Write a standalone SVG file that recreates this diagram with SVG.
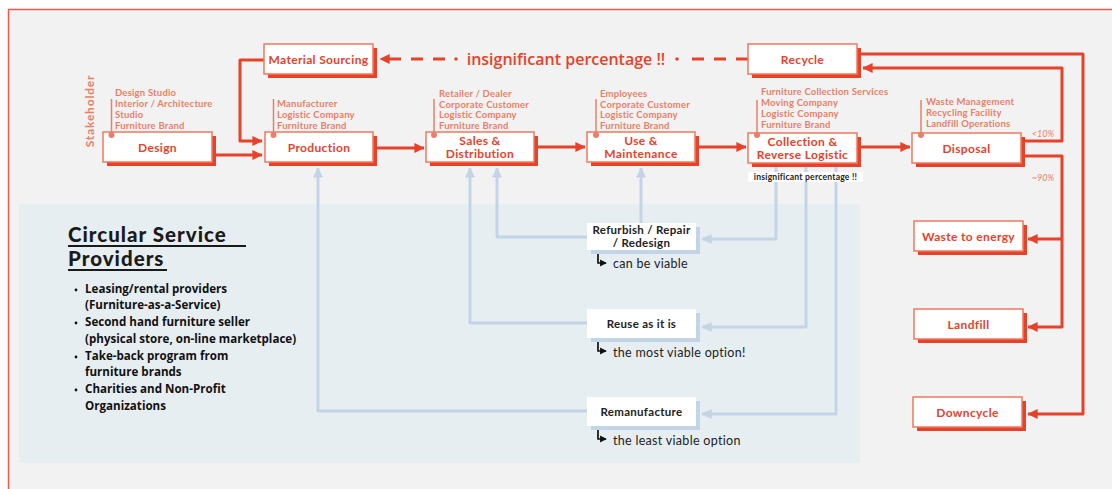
<svg xmlns="http://www.w3.org/2000/svg" width="1112" height="489" viewBox="0 0 1112 489">
<defs>
<marker id="ar" markerWidth="4" markerHeight="4" refX="3.2" refY="2" orient="auto" markerUnits="strokeWidth"><path d="M0,0.3 L3.4,2 L0,3.7 Z" fill="#e8412a"/></marker>
<marker id="ab" markerWidth="4" markerHeight="4" refX="3.2" refY="2" orient="auto" markerUnits="strokeWidth"><path d="M0,0.3 L3.4,2 L0,3.7 Z" fill="#c3d4e6"/></marker>
<marker id="ak" markerWidth="5" markerHeight="5" refX="3.5" refY="2.5" orient="auto" markerUnits="strokeWidth"><path d="M0,0.5 L4,2.5 L0,4.5 Z" fill="#111"/></marker>
<style>
.sh{fill:#e8412a}
.bx{fill:#fff;stroke:#f07a5f;stroke-width:1.5}
.bsh{fill:#c3d4e6}
.sbx{fill:#fff}
.bt{font-family:Lato,"Liberation Sans",sans-serif;font-weight:700;font-size:12px;letter-spacing:0.35px;fill:#e8412a;text-anchor:middle}
.st{font-family:Lato,"Liberation Sans",sans-serif;font-weight:700;font-size:9.5px;letter-spacing:0.2px;fill:#ea7f67}
.sbar{stroke:#ea7f67;stroke-width:1.5}
.dot{fill:#ea7f67}
.rl{fill:none;stroke:#e8412a;stroke-width:3;stroke-linejoin:round}
.bl{fill:none;stroke:#c3d4e6;stroke-width:3;stroke-linejoin:round}
.sv{font-family:Lato,"Liberation Sans",sans-serif;font-weight:700;font-size:11.5px;letter-spacing:0.3px;fill:#222;text-anchor:middle}
.nt{font-family:Lato,"Liberation Sans",sans-serif;font-size:12.5px;letter-spacing:0.3px;fill:#222}
.li{font-family:"Open Sans","Noto Sans",sans-serif;font-weight:700;font-size:11.6px;fill:#111}
.pc{font-family:Lato,"Liberation Sans",sans-serif;font-style:italic;font-size:9px;fill:#ea7f67}
</style>
</defs>
<rect x="0" y="0" width="1112" height="489" fill="#fff"/>
<rect x="8.5" y="9.5" width="1120" height="500" fill="#f2f2f2" stroke="#ef5a4a" stroke-width="1.5"/>
<rect x="19" y="204" width="841" height="259" fill="#e7eef2"/>

<g id="connectors">
<path class="rl" d="M216,155 H262" marker-end="url(#ar)"/>
<path class="rl" d="M264,60 H240 V141 H262" marker-end="url(#ar)"/>
<path class="rl" d="M377,148 H424" marker-end="url(#ar)"/>
<path class="rl" d="M538,147 H585" marker-end="url(#ar)"/>
<path class="rl" d="M699,147 H746" marker-end="url(#ar)"/>
<path class="rl" d="M861,147 H910" marker-end="url(#ar)"/>
<path class="rl" d="M748,59 H684" stroke-dasharray="12 10"/>
<path class="rl" d="M445,59 H380" stroke-dasharray="12 10" marker-end="url(#ar)"/>
<circle cx="456" cy="59" r="1.8" fill="#e8412a"/>
<circle cx="677" cy="59" r="1.8" fill="#e8412a"/>
<path class="rl" d="M861,54 H1083 V414 H1028" marker-end="url(#ar)"/>
<path class="rl" d="M1025,141 H1062 V68 H863" marker-end="url(#ar)"/>
<path class="rl" d="M1025,156 H1062 V327 H1028" marker-end="url(#ar)"/>
<path class="rl" d="M1062,239 H1028" marker-end="url(#ar)"/>
<path class="bl" d="M776,167 V239 H702" marker-end="url(#ab)"/>
<path class="bl" d="M806,167 V327 H702" marker-end="url(#ab)"/>
<path class="bl" d="M836,167 V414 H702" marker-end="url(#ab)"/>
<path class="bl" d="M587,237 H497 V168" marker-end="url(#ab)"/>
<path class="bl" d="M587,323 H470 V168" marker-end="url(#ab)"/>
<path class="bl" d="M587,411 H318 V168" marker-end="url(#ab)"/>
<path class="bl" d="M641,223 V168" marker-end="url(#ab)"/>
<path d="M598,253 V263 H606" fill="none" stroke="#111" stroke-width="1.7" marker-end="url(#ak)"/>
<path d="M598,341 V351 H606" fill="none" stroke="#111" stroke-width="1.7" marker-end="url(#ak)"/>
<path d="M598,429 V439 H606" fill="none" stroke="#111" stroke-width="1.7" marker-end="url(#ak)"/>
</g>

<text x="566" y="64.5" font-family="'Open Sans','Noto Sans',sans-serif" font-weight="600" font-size="16" fill="#e8412a" text-anchor="middle">insignificant percentage !!</text>
<text x="1043" y="137" class="pc" text-anchor="middle">&lt;10%</text>
<text x="1043" y="181" class="pc" text-anchor="middle">~90%</text>
<text transform="translate(94,111) rotate(-90)" font-family="Lato,'Liberation Sans',sans-serif" font-weight="700" font-size="12" fill="#ea7f67" text-anchor="middle" letter-spacing="0.8">Stakeholder</text>

<g id="design">
<rect class="sh" x="107" y="136" width="109" height="30"/><rect class="bx" x="103" y="132" width="109" height="30"/>
<text class="bt" x="157.5" y="152">Design</text>
<line class="sbar" x1="111.5" y1="99" x2="111.5" y2="135"/><circle class="dot" cx="111.5" cy="135" r="3"/>
<text class="st" x="115" y="96">Design Studio</text><text class="st" x="115" y="107">Interior / Architecture</text><text class="st" x="115" y="118">Studio</text><text class="st" x="115" y="129">Furniture Brand</text>
</g>
<g id="material-sourcing">
<rect class="sh" x="268" y="48" width="109" height="30"/><rect class="bx" x="264" y="44" width="109" height="30"/>
<text class="bt" x="318.5" y="64" font-size="11.5">Material Sourcing</text>
</g>
<g id="production">
<rect class="sh" x="269" y="136" width="108" height="30"/><rect class="bx" x="265" y="132" width="108" height="30"/>
<text class="bt" x="319" y="152">Production</text>
<line class="sbar" x1="273.5" y1="99" x2="273.5" y2="135"/><circle class="dot" cx="273.5" cy="135" r="3"/>
<text class="st" x="277" y="107">Manufacturer</text><text class="st" x="277" y="118">Logistic Company</text><text class="st" x="277" y="129">Furniture Brand</text>
</g>
<g id="sales">
<rect class="sh" x="430" y="136" width="108" height="30"/><rect class="bx" x="426" y="132" width="108" height="30"/>
<text class="bt" x="480" y="145">Sales &amp;</text><text class="bt" x="480" y="158">Distribution</text>
<line class="sbar" x1="434" y1="99" x2="434" y2="135"/><circle class="dot" cx="434" cy="135" r="3"/>
<text class="st" x="439" y="97">Retailer / Dealer</text><text class="st" x="439" y="107.5">Corporate Customer</text><text class="st" x="439" y="118">Logistic Company</text><text class="st" x="439" y="128.5">Furniture Brand</text>
</g>
<g id="use">
<rect class="sh" x="591" y="136" width="108" height="30"/><rect class="bx" x="587" y="132" width="108" height="30"/>
<text class="bt" x="641" y="145">Use &amp;</text><text class="bt" x="641" y="158">Maintenance</text>
<line class="sbar" x1="596" y1="99" x2="596" y2="135"/><circle class="dot" cx="596" cy="135" r="3"/>
<text class="st" x="600" y="97">Employees</text><text class="st" x="600" y="107.5">Corporate Customer</text><text class="st" x="600" y="118">Logistic Company</text><text class="st" x="600" y="128.5">Furniture Brand</text>
</g>
<g id="collection">
<rect class="sh" x="752" y="137" width="109" height="30"/><rect class="bx" x="748" y="133" width="109" height="30"/>
<text class="bt" x="802.5" y="146">Collection &amp;</text><text class="bt" x="802.5" y="159">Reverse Logistic</text>
<line class="sbar" x1="757" y1="100" x2="757" y2="135"/><circle class="dot" cx="757" cy="135" r="3"/>
<text class="st" x="761" y="95">Furniture Collection Services</text><text class="st" x="761" y="106">Moving Company</text><text class="st" x="761" y="117">Logistic Company</text><text class="st" x="761" y="128">Furniture Brand</text>
<rect x="748" y="172" width="115" height="10" fill="#fff"/>
<text x="805.5" y="180" font-family="Lato,'Liberation Sans',sans-serif" font-weight="700" font-size="8.6" fill="#222" text-anchor="middle" letter-spacing="0.2">insignificant percentage !!</text>
</g>
<g id="recycle">
<rect class="sh" x="752" y="48" width="109" height="30"/><rect class="bx" x="748" y="44" width="109" height="30"/>
<text class="bt" x="802.5" y="64">Recycle</text>
</g>
<g id="disposal">
<rect class="sh" x="916" y="137" width="109" height="30"/><rect class="bx" x="912" y="133" width="109" height="30"/>
<text class="bt" x="966.5" y="153">Disposal</text>
<line class="sbar" x1="921" y1="100" x2="921" y2="135"/><circle class="dot" cx="921" cy="135" r="3"/>
<text class="st" x="926" y="105">Waste Management</text><text class="st" x="926" y="116">Recycling Facility</text><text class="st" x="926" y="127">Landfill Operations</text>
</g>
<g id="waste-to-energy">
<rect class="sh" x="918" y="225" width="109" height="30"/><rect class="bx" x="914" y="221" width="109" height="30"/>
<text class="bt" x="968.5" y="241">Waste to energy</text>
</g>
<g id="landfill">
<rect class="sh" x="918" y="313" width="109" height="30"/><rect class="bx" x="914" y="309" width="109" height="30"/>
<text class="bt" x="968.5" y="329">Landfill</text>
</g>
<g id="downcycle">
<rect class="sh" x="917" y="401" width="109" height="30"/><rect class="bx" x="913" y="397" width="109" height="30"/>
<text class="bt" x="967.5" y="417">Downcycle</text>
</g>

<g id="refurbish">
<rect class="bsh" x="591" y="227" width="109" height="27"/><rect class="sbx" x="587" y="223" width="109" height="27"/>
<text class="sv" x="641.5" y="234">Refurbish / Repair</text><text class="sv" x="641.5" y="246.5">/ Redesign</text>
<text class="nt" x="613" y="268">can be viable</text>
</g>
<g id="reuse">
<rect class="bsh" x="591" y="313" width="109" height="29"/><rect class="sbx" x="587" y="309" width="109" height="29"/>
<text class="sv" x="641.5" y="328">Reuse as it is</text>
<text class="nt" x="613" y="357">the most viable option!</text>
</g>
<g id="remanufacture">
<rect class="bsh" x="591" y="401" width="109" height="29"/><rect class="sbx" x="587" y="397" width="109" height="29"/>
<text class="sv" x="641.5" y="416">Remanufacture</text>
<text class="nt" x="613" y="445">the least viable option</text>
</g>

<g id="circular-service-providers">
<text x="68" y="242" font-family="Lato,'Liberation Sans',sans-serif" font-weight="900" font-size="20.5" letter-spacing="1" fill="#1a1a1a">Circular Service </text>
<line x1="68" y1="246" x2="246" y2="246" stroke="#1a1a1a" stroke-width="1.8"/>
<text x="68" y="266" font-family="Lato,'Liberation Sans',sans-serif" font-weight="900" font-size="20.5" letter-spacing="1" fill="#1a1a1a">Providers</text>
<line x1="68" y1="270" x2="167" y2="270" stroke="#1a1a1a" stroke-width="1.8"/>
<g class="li">
<circle cx="76" cy="290" r="1.4" fill="#111"/><text x="85" y="293">Leasing/rental providers</text><text x="85" y="309">(Furniture-as-a-Service)</text>
<circle cx="76" cy="323" r="1.4" fill="#111"/><text x="85" y="326">Second hand furniture seller</text><text x="85" y="343">(physical store, on-line marketplace)</text>
<circle cx="76" cy="357" r="1.4" fill="#111"/><text x="85" y="360">Take-back program from</text><text x="85" y="376">furniture brands</text>
<circle cx="76" cy="390" r="1.4" fill="#111"/><text x="85" y="393">Charities and Non-Profit</text><text x="85" y="410">Organizations</text>
</g>
</g>
</svg>
